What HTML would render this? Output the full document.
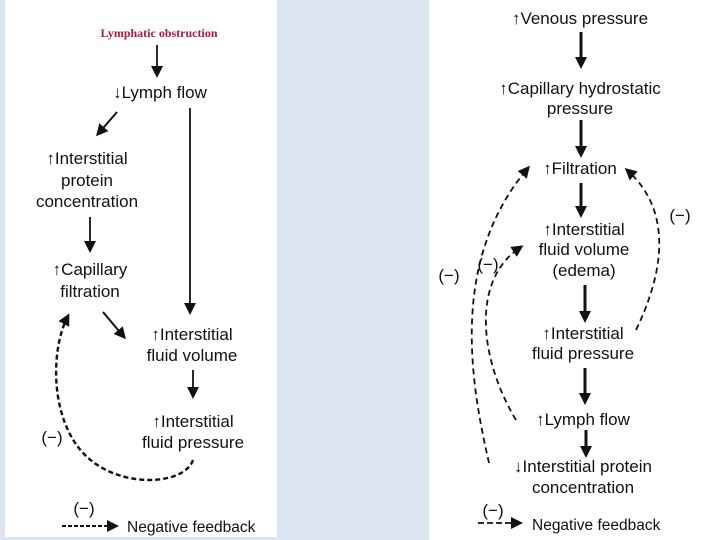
<!DOCTYPE html>
<html><head><meta charset="utf-8"><style>
html,body{margin:0;padding:0;width:720px;height:540px;background:#dbe5f1;overflow:hidden}
svg{display:block}
text{font-family:"Liberation Sans",Arial,sans-serif;font-size:17px;fill:#111;text-anchor:middle}
</style></head><body>
<svg width="720" height="540" viewBox="0 0 720 540">
<defs>
<marker id="b" markerWidth="12" markerHeight="12" refX="9" refY="6" orient="auto" markerUnits="userSpaceOnUse"><path d="M0,0 L12,6 L0,12 z" fill="#111"/></marker>
</defs>
<rect x="5" y="0" width="272" height="537" fill="#fff"/>
<rect x="429" y="0" width="291" height="540" fill="#fff"/>
<g stroke="#111" fill="none">
<line x1="157" y1="45" x2="157" y2="75" stroke-width="1.8" marker-end="url(#b)"/>
<line x1="117" y1="112" x2="98" y2="134" stroke-width="2" marker-end="url(#b)"/>
<line x1="90" y1="217" x2="90" y2="250" stroke-width="1.8" marker-end="url(#b)"/>
<line x1="190" y1="108" x2="190" y2="312" stroke-width="1.8" marker-end="url(#b)"/>
<line x1="103" y1="312" x2="124" y2="337" stroke-width="2" marker-end="url(#b)"/>
<line x1="193" y1="370" x2="193" y2="396" stroke-width="1.8" marker-end="url(#b)"/>
<path d="M193,460 C185,485 120,490 85,455 C50,420 50,350 68,316" stroke-width="2.4" stroke-dasharray="5,3" marker-end="url(#b)"/>
<line x1="62" y1="526" x2="116" y2="526" stroke-width="2" stroke-dasharray="4,2" marker-end="url(#b)"/>
<line x1="581" y1="32" x2="581" y2="66" stroke-width="3" marker-end="url(#b)"/>
<line x1="581" y1="120" x2="581" y2="155" stroke-width="3" marker-end="url(#b)"/>
<line x1="581" y1="183" x2="581" y2="215" stroke-width="3" marker-end="url(#b)"/>
<line x1="585" y1="285" x2="585" y2="320" stroke-width="3" marker-end="url(#b)"/>
<line x1="585" y1="368" x2="585" y2="402" stroke-width="3" marker-end="url(#b)"/>
<line x1="586" y1="430" x2="586" y2="455" stroke-width="3" marker-end="url(#b)"/>
<path d="M489,463 C470,380 450,260 528,168" stroke-width="1.8" stroke-dasharray="6,4" marker-end="url(#b)"/>
<path d="M516,420 C480,360 470,280 521,247" stroke-width="1.8" stroke-dasharray="6,4" marker-end="url(#b)"/>
<path d="M636,330 C665,270 672,210 627,170" stroke-width="1.8" stroke-dasharray="6,4" marker-end="url(#b)"/>
<line x1="478" y1="523" x2="520" y2="523" stroke-width="1.8" stroke-dasharray="6,3" marker-end="url(#b)"/>
</g>
<text x="159" y="37" style="font-family:'Liberation Serif',serif;font-weight:bold;font-size:12px;fill:#b0173a">Lymphatic obstruction</text>
<text x="160" y="98">↓Lymph flow</text>
<text x="87" y="164">↑Interstitial</text>
<text x="87" y="186">protein</text>
<text x="87" y="207">concentration</text>
<text x="90" y="275">↑Capillary</text>
<text x="90" y="297">filtration</text>
<text x="192" y="340">↑Interstitial</text>
<text x="192" y="361">fluid volume</text>
<text x="193" y="427">↑Interstitial</text>
<text x="193" y="448">fluid pressure</text>
<text x="52" y="443">(−)</text>
<text x="84" y="514">(−)</text>
<text x="127" y="532" style="text-anchor:start;font-size:15.5px">Negative feedback</text>

<text x="580" y="24">↑Venous pressure</text>
<text x="580" y="94">↑Capillary hydrostatic</text>
<text x="580" y="114">pressure</text>
<text x="580" y="174">↑Filtration</text>
<text x="584" y="235">↑Interstitial</text>
<text x="584" y="255">fluid volume</text>
<text x="584" y="276">(edema)</text>
<text x="583" y="339">↑Interstitial</text>
<text x="583" y="359">fluid pressure</text>
<text x="583" y="425">↑Lymph flow</text>
<text x="583" y="472">↓Interstitial protein</text>
<text x="583" y="493">concentration</text>
<text x="449" y="281">(−)</text>
<text x="488" y="270">(−)</text>
<text x="680" y="221">(−)</text>
<text x="493" y="516">(−)</text>
<text x="532" y="530" style="text-anchor:start;font-size:15.5px">Negative feedback</text>
</svg>
</body></html>
